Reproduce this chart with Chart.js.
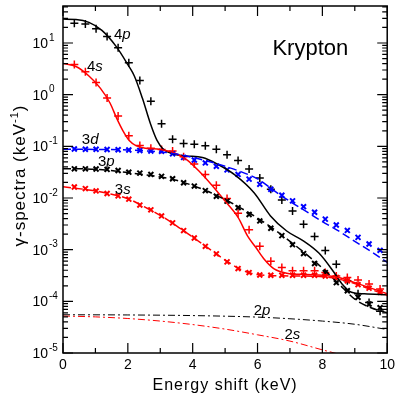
<!DOCTYPE html>
<html>
<head>
<meta charset="utf-8">
<script src="https://cdn.jsdelivr.net/npm/chart.js@4.4.0/dist/chart.umd.min.js"></script>
<style>
  html, body { margin: 0; padding: 0; background: #fff; }
  #wrap { width: 399px; height: 395px; }
</style>
</head>
<body>
<div id="wrap"><canvas id="spectra"></canvas></div>
<script>
// Energies of the marker points (keV)
const markerE = [0.35, 0.69, 1.02, 1.36, 1.70, 2.03, 2.37, 2.71, 3.04, 3.38, 3.72, 4.05, 4.39, 4.73, 5.06,
    5.40, 5.74, 6.07, 6.41, 6.75, 7.08, 7.42, 7.76, 8.09, 8.43, 8.77, 9.10, 9.44, 9.78];

// Marker series (keV^-1)
const p4Marks = [24, 23.4, 18.8, 13.4, 8.1, 4.15, 1.87, 0.745, 0.274, 0.137, 0.1135, 0.110, 0.1025, 0.088, 0.069,
    0.053, 0.0366, 0.0243, 0.0148, 0.0091, 0.0056, 0.0031, 0.0018, 0.00096, 0.00052, 0.00025, 0.00014, 0.000095, 0.000064];
const s4Marks = [3.85, 2.79, 1.72, 0.86, 0.385, 0.16, 0.104, 0.092, 0.087, 0.081, 0.063, 0.0456, 0.0286, 0.0176, 0.0098,
    0.00505, 0.00243, 0.00116, 0.0006, 0.00045, 0.00039, 0.00039, 0.00039, 0.00036, 0.00031, 0.00029, 0.00026, 0.000216, 0.000174];
const d3Marks = [0.089, 0.088, 0.088, 0.087, 0.086, 0.085, 0.083, 0.081, 0.080, 0.072, 0.061, 0.0544, 0.0477, 0.0412, 0.035,
    0.0286, 0.0232, 0.0184, 0.0148, 0.0113, 0.0088, 0.0068, 0.0053, 0.0039, 0.003, 0.00236, 0.00173, 0.00129, 0.00097];
const p3Marks = [0.0367, 0.0367, 0.0365, 0.0357, 0.0341, 0.0316, 0.0303, 0.0286, 0.0262, 0.0236, 0.0197, 0.017, 0.0139, 0.0108, 0.0087,
    0.0065, 0.0048, 0.0036, 0.0026, 0.00187, 0.00125, 0.00084, 0.00054, 0.00036, 0.00023, 0.00016, 0.00012, 0.000089, 0.000075];
const s3Marks = [0.0163, 0.0152, 0.0137, 0.0122, 0.011, 0.0095, 0.0073, 0.0059, 0.0045, 0.0033, 0.00234, 0.00168, 0.00116, 0.00083, 0.00058,
    0.00043, 0.00036, 0.000324, 0.00032, 0.00032, 0.00032, 0.00032, 0.00032, 0.00031, 0.00029, 0.00025, 0.00021, 0.00018, 0.00015];

// Calculated curves
const p4LineE = [0, 0.4, 0.8, 1.2, 1.65, 2.0, 2.2, 2.45, 2.7, 2.9, 3.1, 3.4, 3.8, 4.3, 4.8, 5.3, 5.9, 6.4, 6.9, 7.4, 7.9, 8.35, 8.6, 8.9, 9.3, 10];
const p4Line = [29, 28.5, 25, 17.5, 8.4, 3.8, 2.3, 0.85, 0.27, 0.13, 0.087, 0.071, 0.065, 0.061, 0.044, 0.028, 0.0125, 0.0045,
    0.0023, 0.0015, 0.00085, 0.00037, 0.00022, 0.00015, 0.00014, 0.000134];
const s4LineE = [0, 0.4, 0.8, 1.15, 1.45, 1.65, 1.85, 2.05, 2.25, 2.55, 3.0, 3.4, 3.8, 4.2, 4.6, 5.0, 5.4, 5.7, 5.95, 6.2, 6.5, 6.9, 7.5, 8.0, 8.5, 9.0, 9.5, 10];
const s4Line = [4.0, 3.5, 2.3, 1.34, 0.69, 0.356, 0.2, 0.128, 0.103, 0.092, 0.087, 0.076, 0.056, 0.033, 0.0175, 0.0087, 0.0042, 0.0018,
    0.0011, 0.00066, 0.00043, 0.00035, 0.00033, 0.00032, 0.00029, 0.00023, 0.00018, 0.00014];
const d3LineE = [0, 1, 2, 3, 3.5, 4, 4.5, 5, 5.5, 6, 6.5, 7, 7.5, 8, 8.5, 9, 9.5, 10];
const d3Line = [0.088, 0.087, 0.085, 0.078, 0.071, 0.061, 0.051, 0.041, 0.032, 0.0235, 0.014, 0.0086, 0.0055, 0.0035, 0.0023, 0.00145, 0.00092, 0.00057];
const p3LineE = [0, 1, 2, 3, 3.5, 4, 4.5, 5, 5.5, 6, 6.5, 7, 7.5, 8, 8.5, 9, 9.5, 10];
const p3Line = [0.037, 0.036, 0.031, 0.0255, 0.022, 0.0175, 0.0132, 0.0093, 0.0063, 0.0041, 0.0025, 0.00145, 0.00082, 0.00044, 0.00022, 0.00011, 0.000075, 0.00006];
const s3LineE = [0, 1, 1.5, 2, 2.5, 3, 3.5, 4, 4.5, 5, 5.5, 6, 7, 8, 8.5, 9, 9.5, 10];
const s3Line = [0.0165, 0.0137, 0.0118, 0.0097, 0.0068, 0.0046, 0.0029, 0.00175, 0.00105, 0.00063, 0.00041, 0.00033, 0.00031, 0.0003, 0.00027, 0.00022, 0.00017, 0.00013];
const p2LineE = [0, 2, 4, 6, 7, 8, 9, 10];
const p2Line = [5.5e-5, 5.45e-5, 5.3e-5, 4.95e-5, 4.6e-5, 4.15e-5, 3.6e-5, 2.85e-5];
const s2LineE = [0, 1, 2, 3, 4, 5, 6, 7, 8, 8.5, 9];
const s2Line = [5.2e-5, 5.0e-5, 4.65e-5, 4.15e-5, 3.55e-5, 2.9e-5, 2.25e-5, 1.7e-5, 1.15e-5, 9.5e-6, 7.5e-6];

// Axis ticks
const xTicks = [0, 1, 2, 3, 4, 5, 6, 7, 8, 9, 10];
const yDecades = [-5, -4, -3, -2, -1, 0, 1];

// Curve labels: [number, letter, energy, value]
const curveLabels = [
    ['4', 'p', 1.57, 12.1],
    ['4', 's', 0.74, 2.83],
    ['3', 'd', 0.58, 0.109],
    ['3', 'p', 1.08, 0.0412],
    ['3', 's', 1.6, 0.012],
    ['2', 'p', 5.88, 5.33e-5],
    ['2', 's', 6.83, 1.85e-5]
];

const FONT = '"Liberation Sans", Arial, sans-serif';
Chart.defaults.font.family = FONT;
Chart.defaults.color = '#000';

const pairs = (xs, ys) => xs.map((x, i) => ({ x: x, y: ys[i] }));

function curve(xs, ys, color, dash, width) {
    return {
        data: pairs(xs, ys),
        borderColor: color,
        borderWidth: width,
        borderDash: dash,
        pointRadius: 0,
        cubicInterpolationMode: 'monotone',
        fill: false
    };
}

function marks(ys, color, style) {
    return {
        data: pairs(markerE, ys),
        showLine: false,
        pointStyle: style,
        pointRadius: style === 'cross' ? 4 : 3.5,
        pointBorderColor: color,
        pointBackgroundColor: color,
        pointBorderWidth: style === 'cross' ? 1.5 : 2
    };
}

// Frame, inward tick marks, tick labels and all annotation text
const frameTicks = {
    id: 'frameTicks',
    afterDraw(chart) {
        const { ctx, chartArea: a } = chart;
        const xs = chart.scales.x, ys = chart.scales.y;
        ctx.save();
        ctx.strokeStyle = '#000';
        ctx.lineWidth = 1.5;
        ctx.strokeRect(a.left, a.top, a.right - a.left, a.bottom - a.top);
        ctx.lineWidth = 1.2;
        ctx.beginPath();
        xTicks.forEach(v => {
            const px = xs.getPixelForValue(v);
            const len = v % 2 === 0 ? 10 : 5;
            ctx.moveTo(px, a.bottom); ctx.lineTo(px, a.bottom - len);
            ctx.moveTo(px, a.top); ctx.lineTo(px, a.top + len);
        });
        yDecades.forEach(d => {
            for (let m = 1; m <= 9; m++) {
                const v = m * Math.pow(10, d);
                if (v > ys.max) break;
                const py = ys.getPixelForValue(v);
                const len = m === 1 ? 10 : 5;
                ctx.moveTo(a.left, py); ctx.lineTo(a.left + len, py);
                ctx.moveTo(a.right, py); ctx.lineTo(a.right - len, py);
            }
        });
        ctx.stroke();

        // y tick labels with raised exponent
        ctx.fillStyle = '#000';
        ctx.textBaseline = 'middle';
        yDecades.forEach(d => {
            const py = ys.getPixelForValue(Math.pow(10, d));
            ctx.font = '14px ' + FONT;
            ctx.textAlign = 'right';
            ctx.fillText('10', a.left - 15, py + 1);
            ctx.font = '10px ' + FONT;
            ctx.textAlign = 'left';
            ctx.fillText(String(d), a.left - 14, py - 5);
        });

        // curve labels
        ctx.textBaseline = 'alphabetic';
        ctx.textAlign = 'left';
        curveLabels.forEach(([n, l, e, v]) => {
            const px = xs.getPixelForValue(e), py = ys.getPixelForValue(v);
            ctx.font = '15px ' + FONT;
            ctx.fillText(n, px, py);
            const w = ctx.measureText(n).width;
            ctx.font = 'italic 15px ' + FONT;
            ctx.fillText(l, px + w, py);
        });

        ctx.font = '22px ' + FONT;
        ctx.fillText('Krypton', xs.getPixelForValue(6.46), ys.getPixelForValue(5.98));

        // axis titles
        ctx.letterSpacing = '1px';
        ctx.font = '16px ' + FONT;
        ctx.textAlign = 'center';
        ctx.fillText('Energy shift (keV)', (a.left + a.right) / 2, 390);

        ctx.translate(25, (a.top + a.bottom) / 2 - 4);
        ctx.rotate(-Math.PI / 2);
        ctx.textAlign = 'left';
        const big = '17px ' + FONT, small = '11px ' + FONT;
        ctx.font = big;
        const w1 = ctx.measureText('γ-spectra (keV').width;
        const w3 = ctx.measureText(')').width;
        ctx.font = small;
        const w2 = ctx.measureText('-1').width;
        let x0 = -(w1 + w2 + w3) / 2;
        ctx.font = big;
        ctx.fillText('γ-spectra (keV', x0, 0);
        ctx.font = small;
        ctx.fillText('-1', x0 + w1, -7);
        ctx.font = big;
        ctx.fillText(')', x0 + w1 + w2, 0);
        ctx.restore();
    }
};

new Chart(document.getElementById('spectra'), {
    type: 'line',
    data: {
        datasets: [
            curve(p2LineE, p2Line, '#000', [7, 3, 2, 3], 1),
            curve(s2LineE, s2Line, '#ff0000', [7, 3, 2, 3], 1),
            curve(s3LineE, s3Line, '#ff0000', [8, 4], 1.5),
            curve(p3LineE, p3Line, '#000', [8, 4], 1.5),
            curve(d3LineE, d3Line, '#0000ff', [8, 4], 1.5),
            curve(s4LineE, s4Line, '#ff0000', [], 1.5),
            curve(p4LineE, p4Line, '#000', [], 1.5),
            marks(s3Marks, '#ff0000', 'crossRot'),
            marks(p3Marks, '#000', 'crossRot'),
            marks(d3Marks, '#0000ff', 'crossRot'),
            marks(s4Marks, '#ff0000', 'cross'),
            marks(p4Marks, '#000', 'cross')
        ]
    },
    options: {
        responsive: true,
        maintainAspectRatio: false,
        animation: false,
        devicePixelRatio: 1,
        layout: { padding: { left: 0, right: 11, top: 2, bottom: 0 } },
        plugins: { legend: { display: false }, tooltip: { enabled: false } },
        scales: {
            x: {
                type: 'linear',
                min: 0,
                max: 10,
                grid: { display: false, drawTicks: false },
                border: { display: false },
                ticks: { stepSize: 2, font: { size: 14 }, color: '#000', padding: 4, maxRotation: 0 },
                afterFit: s => { s.height = 42; }
            },
            y: {
                type: 'logarithmic',
                min: 1e-5,
                max: 52,
                grid: { display: false, drawTicks: false },
                border: { display: false },
                ticks: { display: false },
                afterFit: s => { s.width = 63; }
            }
        }
    },
    plugins: [frameTicks]
});
</script>
</body>
</html>
